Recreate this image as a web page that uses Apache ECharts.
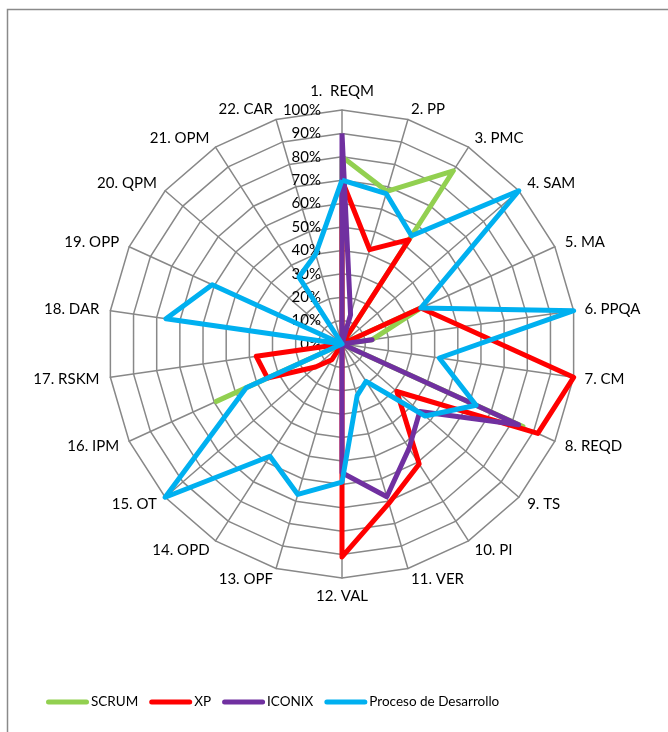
<!DOCTYPE html>
<html>
<head>
<meta charset="utf-8">
<script src="https://cdn.jsdelivr.net/npm/echarts@6/dist/echarts.min.js"></script>
<style>
  html, body { margin: 0; padding: 0; background: #fff; }
  #chart { width: 668px; height: 732px; }
</style>
</head>
<body>
<div id="chart"></div>
<script>
// ---- data ----
var categories = ['1.  REQM', '2. PP', '3. PMC', '4. SAM', '5. MA', '6. PPQA', '7. CM', '8. REQD',
  '9. TS', '10. PI', '11. VER', '12. VAL', '13. OPF', '14. OPD', '15. OT', '16. IPM',
  '17. RSKM', '18. DAR', '19. OPP', '20. QPM', '21. OPM', '22. CAR'];
var seriesNames = ['SCRUM', 'XP', 'ICONIX', 'Proceso de Desarrollo'];
var scrum   = [0.80, 0.68, 0.88, 0, 0.37, 0.13, 0, 0.85, 0, 0, 0, 0, 0, 0, 0, 0.59, 0, 0, 0, 0, 0, 0];
var xp      = [0.70, 0.42, 0.53, 0, 0.37, 0.52, 1.00, 0.92, 0.31, 0.61, 0.71, 0.91, 0, 0.08, 0.15, 0.35, 0.37, 0, 0, 0, 0, 0];
var iconix  = [0.90, 0.13, 0, 0, 0, 0.13, 0, 0.83, 0.44, 0.53, 0.68, 0.55, 0, 0, 0, 0, 0, 0, 0, 0, 0, 0];
var proceso = [0.70, 0.67, 0.55, 1.00, 0.37, 1.00, 0.42, 0.63, 0.47, 0.19, 0.23, 0.59, 0.67, 0.57, 1.00, 0.45, 0, 0.76, 0.61, 0, 0.34, 0.40];
var tickMax = 1;

var colors = ['#92D050', '#FF0000', '#7030A0', '#00B0F0'];
var FONT = 'Lato, "Open Sans", sans-serif';

// ECharts lays radar indicators counter-clockwise; reorder for clockwise display
function clockwise(arr) {
  var out = [arr[0]];
  for (var i = arr.length - 1; i >= 1; i--) out.push(arr[i]);
  return out;
}
var allValues = [scrum, xp, iconix, proceso];

var CX = 342, CY = 344, R = 234;

var chart = echarts.init(document.getElementById('chart'), null, { renderer: 'canvas' });
var option = {
  animation: false,
  backgroundColor: '#fff',
  color: colors,
  graphic: [{
    type: 'rect', left: 5, top: 7,
    shape: { width: 700, height: 760 },
    style: { fill: 'none', stroke: '#8a8a8a', lineWidth: 1.5 },
    silent: true, z: -10
  }],
  legend: {
    data: seriesNames,
    left: 41,
    top: 690,
    itemWidth: 43,
    itemHeight: 5,
    itemGap: 11,
    icon: 'path://M2.5,0 H40.5 A2.5,2.5 0 0 1 40.5,5 H2.5 A2.5,2.5 0 0 1 2.5,0 Z',
    textStyle: { fontFamily: FONT, fontSize: 13.5, color: '#000', padding: [0, 0, 0, -3] }
  },
  radar: [{
    center: [CX, CY],
    radius: R,
    startAngle: 90,
    shape: 'polygon',
    splitNumber: 10,
    indicator: clockwise(categories).map(function (c) { return { name: c, min: 0, max: tickMax }; }),
    axisName: { color: '#000', fontFamily: FONT, fontSize: 15 },
    nameGap: 11,
    axisLine: { lineStyle: { color: '#888', width: 1.5 } },
    splitLine: { lineStyle: { color: '#888', width: 1.5 } },
    splitArea: { show: false },
    axisTick: { show: false },
    axisLabel: { show: false }
  }, {
    center: [CX, CY],
    radius: R,
    startAngle: 90,
    shape: 'polygon',
    splitNumber: 10,
    indicator: [{ name: '', min: 0, max: tickMax }],
    axisName: { show: false },
    axisLine: { show: false },
    splitLine: { show: false },
    splitArea: { show: false },
    axisTick: { show: false },
    axisLabel: {
      show: true, margin: 21, fontFamily: FONT, fontSize: 15, color: '#000',
      formatter: function (v) { return Math.round(v * 100) + '%'; }
    }
  }],
  series: seriesNames.map(function (name, i) {
    return {
      type: 'radar',
      radarIndex: 0,
      name: name,
      symbol: 'none',
      lineStyle: { width: 5, color: colors[i] },
      itemStyle: { color: colors[i] },
      z: 2 + i,
      data: [{ name: name, value: clockwise(allValues[i]) }]
    };
  })
};
chart.setOption(option);
</script>
</body>
</html>
